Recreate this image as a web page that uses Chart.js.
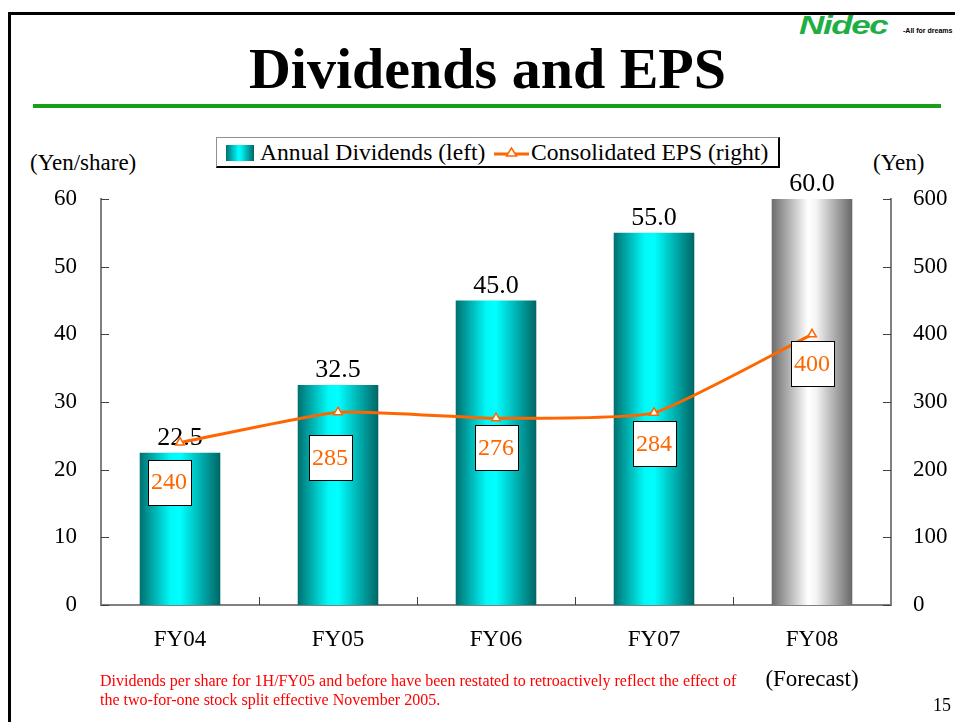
<!DOCTYPE html>
<html>
<head>
<meta charset="utf-8">
<script src="https://cdn.jsdelivr.net/npm/chart.js@4.4.1/dist/chart.umd.min.js"></script>
<style>
    html, body { margin: 0; padding: 0; background: #fff; }
    body { width: 955px; height: 722px; position: relative; overflow: hidden; font-family: 'Liberation Serif', 'Times New Roman', serif; }
    .abs { position: absolute; white-space: nowrap; }
    #chart { position: absolute; left: 0; top: 0; }
    .frame-top { left: 8px; top: 12px; width: 947px; height: 3px; background: #000; }
    .frame-left { left: 8px; top: 12px; width: 3px; height: 710px; background: #000; }
    .green-rule { left: 33px; top: 104px; width: 908px; height: 4px; background: #17a017; }
    .title { left: 0; width: 975px; text-align: center; top: 40px; font-size: 58px; line-height: 58px; font-weight: bold; }
    .logo { left: 799px; top: 13px; font-family: 'Liberation Sans', Arial, sans-serif; font-weight: bold; font-style: italic; font-size: 25px; line-height: 25px; color: #1fae45; transform: scaleX(1.4); transform-origin: left top; letter-spacing: -1px; }
    .logo-sub { left: 903px; top: 27px; font-family: 'Liberation Sans', Arial, sans-serif; font-weight: bold; font-size: 7px; line-height: 7px; color: #000; }
    .unit { top: 151px; font-size: 23px; line-height: 23px; }
    .legend { left: 216px; top: 137px; width: 561px; height: 28px; border: 1px solid #909090; border-right: 2px solid #000; border-bottom: 2px solid #000; }
    .legend span { position: absolute; top: 3px; font-size: 23.6px; line-height: 23px; }
    .swatch { position: absolute; left: 9px; top: 7px; width: 28px; height: 16px; background: linear-gradient(to right, #007070, #00ffff 45%, #00f0f0 55%, #006666); }
    .footnote { left: 100px; font-size: 16px; line-height: 16px; color: #ff0000; }
    .page { left: 933px; top: 696px; font-size: 18px; line-height: 18px; }
</style>
</head>
<body>
<div class="abs frame-top"></div>
<div class="abs frame-left"></div>
<div class="abs logo">Nidec</div>
<div class="abs logo-sub">-All for dreams</div>
<div class="abs title">Dividends and EPS</div>
<div class="abs green-rule"></div>
<div class="abs legend">
    <div class="swatch"></div>
    <span style="left:43px">Annual Dividends (left)</span>
    <svg style="position:absolute;left:277px;top:7px" width="35" height="16">
        <line x1="0" y1="9" x2="35" y2="9" stroke="#ff6600" stroke-width="3"/>
        <polygon points="17.5,3 12.5,11 22.5,11" fill="#fff" stroke="#ff6600" stroke-width="1.5"/>
    </svg>
    <span style="left:314px">Consolidated EPS (right)</span>
</div>
<div class="abs unit" style="left:30px">(Yen/share)</div>
<div class="abs unit" style="left:873px">(Yen)</div>
<canvas id="chart" width="955" height="722"></canvas>
<div class="abs footnote" style="top:673px">Dividends per share for 1H/FY05 and before have been restated to retroactively reflect the effect of</div>
<div class="abs footnote" style="top:692px">the two-for-one stock split effective November 2005.</div>
<div class="abs page">15</div>

<script>
const categories = ['FY04', 'FY05', 'FY06', 'FY07', ['FY08', '(Forecast)']];
const dividends = [22.5, 32.5, 45.0, 55.0, 60.0];
const eps = [240, 285, 276, 284, 400];
const forecast = [false, false, false, false, true];
const leftTicks = [0, 10, 20, 30, 40, 50, 60];
const rightTicks = [0, 100, 200, 300, 400, 500, 600];

const SERIF = "'Liberation Serif', 'Times New Roman', serif";
const BAR_PCT = 0.51;
const ORANGE = '#ff6600';

function barGradient(ctx, x0, x1, gray) {
    const g = ctx.createLinearGradient(x0, 0, x1, 0);
    if (gray) {
        g.addColorStop(0, '#6c6c6c');
        g.addColorStop(0.45, '#ffffff');
        g.addColorStop(0.55, '#f4f4f4');
        g.addColorStop(1, '#686868');
    } else {
        g.addColorStop(0, '#007070');
        g.addColorStop(0.38, '#00f8f8');
        g.addColorStop(0.5, '#00ffff');
        g.addColorStop(1, '#006565');
    }
    return g;
}

// ticks pointing into the plot, like the original
const inwardTicks = {
    id: 'inwardTicks',
    afterDraw(chart) {
        const { ctx, chartArea: a, scales } = chart;
        ctx.save();
        ctx.strokeStyle = '#404040';
        ctx.lineWidth = 1;
        ctx.beginPath();
        scales.y.ticks.forEach((t, i) => {
            const y = Math.round(scales.y.getPixelForTick(i)) + 0.5;
            ctx.moveTo(a.left, y);
            ctx.lineTo(a.left + 8, y);
        });
        scales.y1.ticks.forEach((t, i) => {
            const y = Math.round(scales.y1.getPixelForTick(i)) + 0.5;
            ctx.moveTo(a.right, y);
            ctx.lineTo(a.right - 8, y);
        });
        for (let i = 1; i < categories.length; i++) {
            const x = Math.round((scales.x.getPixelForValue(i - 1) + scales.x.getPixelForValue(i)) / 2) + 0.5;
            ctx.moveTo(x, a.bottom);
            ctx.lineTo(x, a.bottom - 8);
        }
        ctx.stroke();
        ctx.restore();
    }
};

// value labels: plain above bars, boxed below the EPS points
const boxShift = { dx: [-11, -8, 0, 0, 0], dy: [17, 23, 7, 8, 7] };
const valueLabels = {
    id: 'valueLabels',
    afterDatasetDraw(chart, args) {
        const ctx = chart.ctx;
        const meta = args.meta;
        ctx.save();
        if (meta.type === 'bar') {
            ctx.font = '26px ' + SERIF;
            ctx.fillStyle = '#000';
            ctx.textAlign = 'center';
            ctx.textBaseline = 'alphabetic';
            meta.data.forEach((el, i) => {
                ctx.fillText(dividends[i].toFixed(1), el.x, el.y - 8);
            });
        } else {
            const w = 43, h = 45;
            ctx.font = '24px ' + SERIF;
            ctx.textAlign = 'center';
            ctx.textBaseline = 'middle';
            meta.data.forEach((el, i) => {
                const cx = el.x + boxShift.dx[i];
                const top = el.y + boxShift.dy[i];
                ctx.fillStyle = '#fff';
                ctx.fillRect(Math.round(cx - w / 2), Math.round(top), w, h);
                ctx.strokeStyle = '#000';
                ctx.lineWidth = 1;
                ctx.strokeRect(Math.round(cx - w / 2) + 0.5, Math.round(top) + 0.5, w, h);
                ctx.fillStyle = ORANGE;
                ctx.fillText(String(eps[i]), cx, top + h / 2 + 1);
            });
        }
        ctx.restore();
    }
};

new Chart(document.getElementById('chart'), {
    data: {
        labels: categories,
        datasets: [{
            type: 'bar',
            label: 'Annual Dividends (left)',
            data: dividends,
            yAxisID: 'y',
            order: 2,
            barPercentage: BAR_PCT,
            categoryPercentage: 1,
            borderWidth: 0,
            backgroundColor: (c) => {
                const chart = c.chart;
                const area = chart.chartArea;
                if (!area || c.type !== 'data') return '#00cccc';
                const x = chart.scales.x.getPixelForValue(c.dataIndex);
                const w = area.width / categories.length * BAR_PCT;
                return barGradient(chart.ctx, x - w / 2, x + w / 2, forecast[c.dataIndex]);
            }
        }, {
            type: 'line',
            label: 'Consolidated EPS (right)',
            data: eps,
            yAxisID: 'y1',
            order: 1,
            borderColor: ORANGE,
            borderWidth: 3,
            tension: 0.15,
            pointStyle: 'triangle',
            pointRadius: 5,
            pointBackgroundColor: '#fff',
            pointBorderColor: ORANGE,
            pointBorderWidth: 1.5
        }]
    },
    options: {
        responsive: false,
        animation: false,
        devicePixelRatio: 1,
        layout: { padding: { top: 199, left: 0, right: 0, bottom: 0 } },
        plugins: {
            legend: { display: false },
            tooltip: { enabled: false }
        },
        scales: {
            x: {
                offset: true,
                grid: { display: false, drawTicks: false },
                border: { display: true, color: '#808080', width: 2 },
                ticks: {
                    color: '#000',
                    padding: 15,
                    maxRotation: 0,
                    font: { family: SERIF, size: 23, lineHeight: 1.74 }
                },
                afterFit: (s) => { s.height = 117; }
            },
            y: {
                position: 'left',
                min: 0,
                max: 60,
                afterBuildTicks: (s) => { s.ticks = leftTicks.map(v => ({ value: v })); },
                grid: { display: false, drawTicks: false },
                border: { display: true, color: '#808080', width: 2 },
                ticks: { color: '#000', padding: 24, font: { family: SERIF, size: 23 } },
                afterFit: (s) => { s.width = 101; }
            },
            y1: {
                position: 'right',
                min: 0,
                max: 600,
                afterBuildTicks: (s) => { s.ticks = rightTicks.map(v => ({ value: v })); },
                grid: { display: false, drawTicks: false },
                border: { display: true, color: '#808080', width: 2 },
                ticks: { color: '#000', padding: 22, font: { family: SERIF, size: 23 } },
                afterFit: (s) => { s.width = 64; }
            }
        }
    },
    plugins: [inwardTicks, valueLabels]
});
</script>
</body>
</html>
